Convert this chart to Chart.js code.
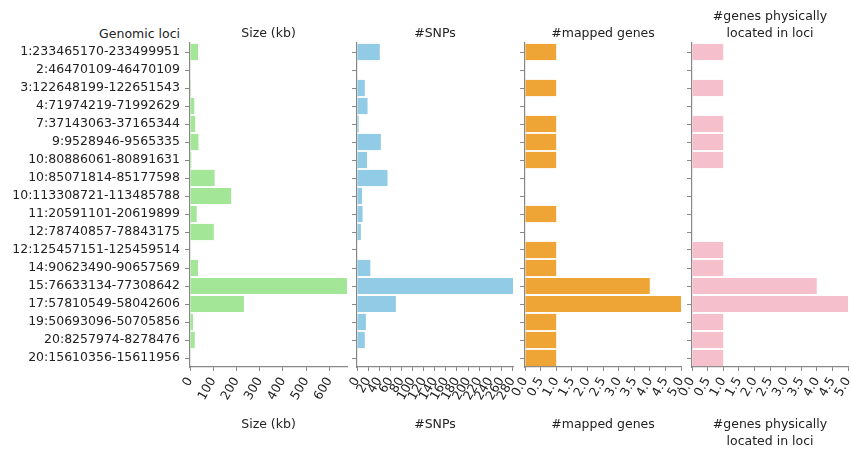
<!DOCTYPE html>
<html>
<head>
<meta charset="utf-8">
<script src="https://cdn.jsdelivr.net/npm/chart.js@4.4.1/dist/chart.umd.min.js"></script>
<style>
  body { margin: 0; background: #fff; }
  #wrap { position: relative; width: 851px; height: 453px; font-family: "DejaVu Sans", sans-serif; }
  canvas { position: absolute; top: 0; }
  #lociTitle { position: absolute; right: 671px; top: 25px; font-size: 12.5px; line-height: 17.5px; color: #222; white-space: nowrap; }
</style>
</head>
<body>
<div id="wrap">
  <div id="lociTitle">Genomic loci</div>
  <canvas id="c1" width="350" height="453" style="left:0px"></canvas>
  <canvas id="c2" width="176" height="453" style="left:340px"></canvas>
  <canvas id="c3" width="179" height="453" style="left:505px"></canvas>
  <canvas id="c4" width="179" height="453" style="left:672px"></canvas>
</div>
<script>
// rows, top to bottom
const loci = [
  '1:233465170-233499951', '2:46470109-46470109', '3:122648199-122651543',
  '4:71974219-71992629', '7:37143063-37165344', '9:9528946-9565335',
  '10:80886061-80891631', '10:85071814-85177598', '10:113308721-113485788',
  '11:20591101-20619899', '12:78740857-78843175', '12:125457151-125459514',
  '14:90623490-90657569', '15:76633134-77308642', '17:57810549-58042606',
  '19:50693096-50705856', '20:8257974-8278476', '20:15610356-15611956'
];
const sizeKb = [34.8, 0, 3.3, 18.4, 22.3, 36.4, 5.6, 105.8, 177.1, 28.8, 102.3, 2.4, 34.1, 675.5, 232.1, 12.8, 20.5, 1.6];
const snps = [41, 0, 14, 19, 3, 43, 18, 55, 9, 10, 7, 0, 24, 281, 70, 16, 14, 0];
const mappedGenes = [1, 0, 1, 0, 1, 1, 1, 0, 0, 1, 0, 1, 1, 4, 5, 1, 1, 1];
const physicalGenes = [1, 0, 1, 0, 1, 1, 1, 0, 0, 0, 0, 1, 1, 4, 5, 1, 1, 1];

const textColor = '#222';
const axisColor = '#888';
const font = { family: 'DejaVu Sans', size: 12.5, lineHeight: 1.4, weight: 'normal' };

function makePanel(p) {
  const twoLines = Array.isArray(p.title);
  new Chart(document.getElementById(p.id), {
    type: 'bar',
    data: {
      labels: loci,
      datasets: [{
        data: p.values,
        backgroundColor: p.color,
        barPercentage: 0.9,
        categoryPercentage: 1
      }]
    },
    options: {
      indexAxis: 'y',
      responsive: false,
      animation: false,
      layout: { padding: { right: 3 } },
      plugins: {
        legend: { display: false },
        tooltip: { enabled: false },
        title: {
          display: true,
          fullSize: false,
          text: p.title,
          font: font,
          color: textColor,
          padding: twoLines ? { top: 7.75, bottom: 0.25 } : { top: 25.25, bottom: 0.25 }
        }
      },
      scales: {
        x: {
          min: 0,
          max: p.max,
          grid: { drawOnChartArea: false, tickLength: 4, color: axisColor },
          border: { color: axisColor, width: 1.2 },
          ticks: {
            stepSize: p.step,
            includeBounds: false,
            autoSkip: false,
            minRotation: 60,
            maxRotation: 60,
            padding: 3,
            font: font,
            color: textColor,
            callback: v => p.decimals ? v.toFixed(p.decimals) : v
          },
          title: {
            display: true,
            text: p.title,
            font: font,
            color: textColor,
            padding: twoLines ? { top: 0, bottom: 2.25 } : { top: 0, bottom: 19.75 }
          },
          afterFit(s) { s.height = 86; s.paddingLeft = 0; s.paddingRight = 0; }
        },
        y: {
          grid: { offset: false, drawOnChartArea: false, tickLength: 5, color: axisColor },
          border: { color: axisColor, width: 1.2 },
          ticks: { display: p.showLabels, padding: 5, font: font, color: textColor, autoSkip: false },
          afterFit(s) { s.width = p.yWidth; s.paddingTop = 0; s.paddingBottom = 0; }
        }
      }
    }
  });
}

makePanel({ id: 'c1', values: sizeKb, color: '#a3e698', title: 'Size (kb)', max: 675.5, step: 100, decimals: 0, yWidth: 190, showLabels: true });
makePanel({ id: 'c2', values: snps, color: '#92cbe6', title: '#SNPs', max: 281, step: 20, decimals: 0, yWidth: 17, showLabels: false });
makePanel({ id: 'c3', values: mappedGenes, color: '#eea536', title: '#mapped genes', max: 5, step: 0.5, decimals: 1, yWidth: 20, showLabels: false });
makePanel({ id: 'c4', values: physicalGenes, color: '#f5c0cc', title: ['#genes physically', 'located in loci'], max: 5, step: 0.5, decimals: 1, yWidth: 20, showLabels: false });
</script>
</body>
</html>
